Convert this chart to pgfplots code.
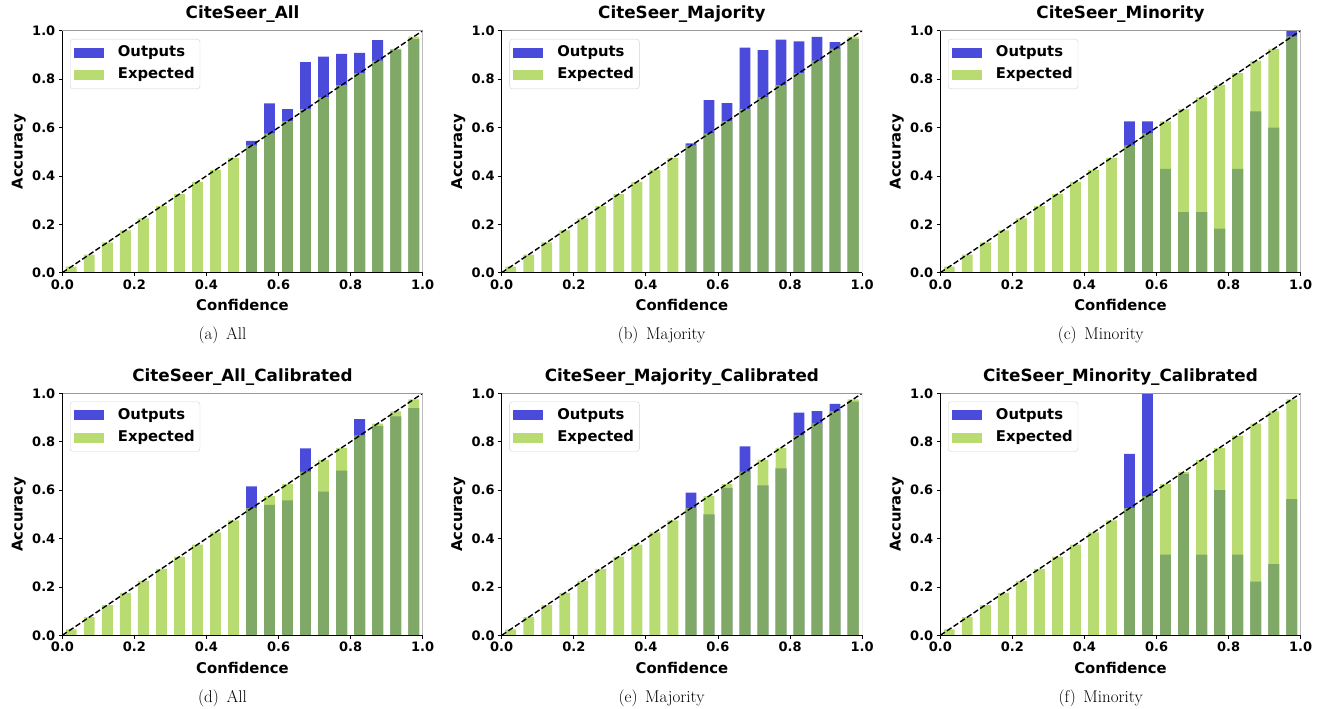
\documentclass[border=0pt]{standalone}
\usepackage{pgfplots}
\usepackage{pgfplotstable}
\pgfplotsset{compat=1.18}
\usepackage{fontspec}
\newfontfamily\dv{DejaVu Sans}
\definecolor{cblue}{HTML}{4B4BDB}
\definecolor{cgreen}{HTML}{B9DC72}
\definecolor{cdark}{HTML}{80A866}

\pgfplotstableread{
x exp
0.025 0.025
0.075 0.075
0.125 0.125
0.175 0.175
0.225 0.225
0.275 0.275
0.325 0.325
0.375 0.375
0.425 0.425
0.475 0.475
0.525 0.525
0.575 0.575
0.625 0.625
0.675 0.675
0.725 0.725
0.775 0.775
0.825 0.825
0.875 0.875
0.925 0.925
0.975 0.975
}\expT

\pgfplotstableread{
x out ovl
0.525 0.545 0.525
0.575 0.700 0.575
0.625 0.676 0.625
0.675 0.870 0.675
0.725 0.893 0.725
0.775 0.904 0.775
0.825 0.908 0.825
0.875 0.961 0.875
0.925 0.922 0.922
0.975 0.965 0.965
}\tA

\pgfplotstableread{
x out ovl
0.525 0.534 0.525
0.575 0.713 0.575
0.625 0.701 0.625
0.675 0.930 0.675
0.725 0.920 0.725
0.775 0.963 0.775
0.825 0.956 0.825
0.875 0.974 0.875
0.925 0.953 0.925
0.975 0.966 0.966
}\tB

\pgfplotstableread{
x out ovl
0.525 0.625 0.525
0.575 0.625 0.575
0.625 0.429 0.429
0.675 0.250 0.250
0.725 0.250 0.250
0.775 0.182 0.182
0.825 0.429 0.429
0.875 0.667 0.667
0.925 0.600 0.600
0.975 1.000 0.975
}\tC

\pgfplotstableread{
x out ovl
0.525 0.615 0.525
0.575 0.539 0.539
0.625 0.558 0.558
0.675 0.772 0.675
0.725 0.594 0.594
0.775 0.681 0.681
0.825 0.893 0.825
0.875 0.864 0.864
0.925 0.905 0.905
0.975 0.939 0.939
}\tD

\pgfplotstableread{
x out ovl
0.525 0.590 0.525
0.575 0.500 0.500
0.625 0.609 0.609
0.675 0.781 0.675
0.725 0.620 0.620
0.775 0.690 0.690
0.825 0.920 0.825
0.875 0.926 0.875
0.925 0.956 0.925
0.975 0.966 0.966
}\tE

\pgfplotstableread{
x out ovl
0.525 0.750 0.525
0.575 1.000 0.575
0.625 0.333 0.333
0.675 0.667 0.667
0.725 0.333 0.333
0.775 0.600 0.600
0.825 0.333 0.333
0.875 0.222 0.222
0.925 0.294 0.294
0.975 0.5625 0.5625
}\tF

\pgfplotsset{
  reliab/.style={
    width=360.4pt, height=242pt, scale only axis,
    xmin=0, xmax=1, ymin=0, ymax=1,
    axis x line*=bottom, axis y line*=left,
    axis line style={black, line width=0.9pt},
    axis on top=true,
    tick align=outside,
    major tick length=3.5pt,
    tick style={black, line width=0.8pt},
    xtick={0,0.2,0.4,0.6,0.8,1},
    ytick={0,0.2,0.4,0.6,0.8,1},
    /pgf/number format/assume math mode=true,
    /pgf/number format/.cd, fixed, fixed zerofill, precision=1, /pgfplots/.cd,
    ticklabel style={font=\dv\bfseries\fontsize{13}{15}\selectfont},
    xlabel={Confidence}, ylabel={Accuracy},
    xlabel style={at={(axis description cs:0.5,-0.158)}, anchor=base, font=\dv\bfseries\fontsize{14.8}{17}\selectfont},
    ylabel style={at={(axis description cs:-0.110,0.5)}, anchor=base, font=\dv\bfseries\fontsize{14.8}{17}\selectfont},
    title style={at={(axis description cs:0.5,1)}, anchor=base, yshift=6pt, font=\dv\bfseries\fontsize{16.8}{19}\selectfont},
    legend style={at={(axis description cs:0.0214,0.966)}, anchor=north west,
      draw=black!18, rounded corners=3pt, fill=white,
      font=\dv\bfseries\fontsize{14.8}{17}\selectfont,
      inner xsep=3.3pt, inner ysep=5pt,
      nodes={inner sep=2pt, text height=10.5pt, text depth=3pt},
      row sep=4.8pt, column sep=12.4pt},
    legend cell align=left,
  },
  barbase/.style={ybar, bar width=0.03, bar shift=0pt, draw=none,
    legend image code/.code={\fill[##1, draw=none, sharp corners] (0pt,-5pt) rectangle (30pt,5pt);}},
}

\newcommand{\panel}[4]{%
\begin{axis}[reliab, at={(#1pt,#2pt)}, anchor=south west, title={#3}]
\addplot[barbase, fill=cblue] table[x=x, y=out] {#4};
\addlegendentry{Outputs}
\addplot[barbase, fill=cgreen] table[x=x, y=exp] {\expT};
\addlegendentry{Expected}
\addplot[barbase, fill=cdark, forget plot] table[x=x, y=ovl] {#4};
\addplot[black, dash pattern=on 5.5pt off 2.5pt, line width=1.4pt, forget plot] coordinates {(0,0) (1,1)};
\draw[black!40, line width=0.9pt] (rel axis cs:0,1) -- (rel axis cs:1,1) -- (rel axis cs:1,0);
\end{axis}%
}

\begin{document}
\begin{tikzpicture}
\useasboundingbox (0pt,0pt) rectangle (1325pt,-709pt);
\panel{62.3}{-272.7}{CiteSeer\_All}{\tA}
\panel{501.7}{-272.7}{CiteSeer\_Majority}{\tB}
\panel{940.3}{-272.7}{CiteSeer\_Minority}{\tC}
\panel{62.3}{-635.3}{CiteSeer\_All\_Calibrated}{\tD}
\panel{501.7}{-635.3}{CiteSeer\_Majority\_Calibrated}{\tE}
\panel{940.3}{-635.3}{CiteSeer\_Minority\_Calibrated}{\tF}
\begin{scope}[every node/.style={anchor=base, font=\fontsize{17}{19}\selectfont}]
\node at (222.5pt,-339.3pt) {(a)\hspace{0.45em}All};
\node at (661.6pt,-339.3pt) {(b)\hspace{0.45em}Majority};
\node at (1100.7pt,-339.3pt) {(c)\hspace{0.45em}Minority};
\node at (222.5pt,-702.7pt) {(d)\hspace{0.45em}All};
\node at (661.6pt,-702.7pt) {(e)\hspace{0.45em}Majority};
\node at (1100.7pt,-702.7pt) {(f)\hspace{0.45em}Minority};
\end{scope}
\end{tikzpicture}
\end{document}
